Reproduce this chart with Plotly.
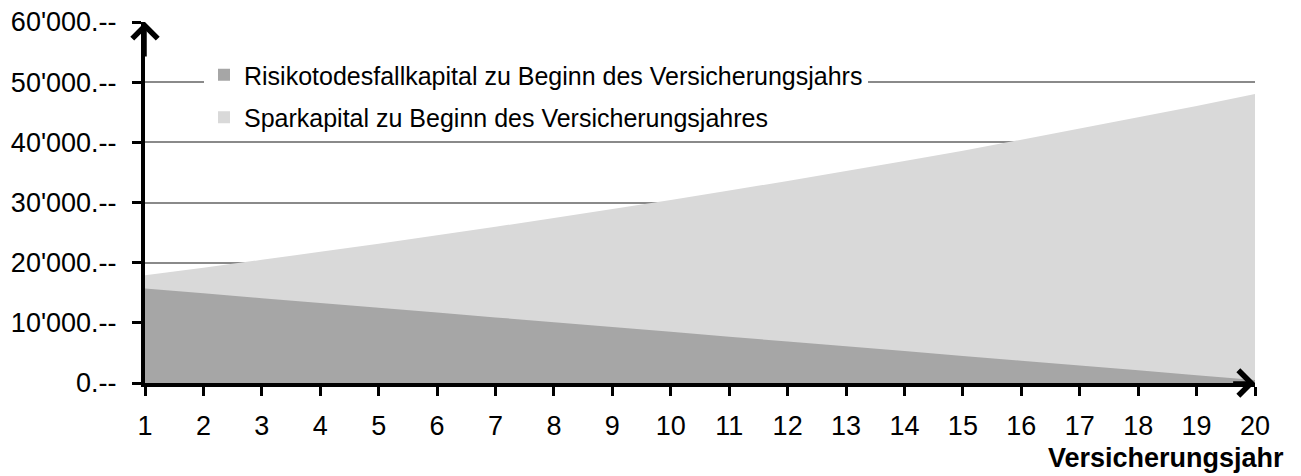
import plotly.graph_objects as go

years = list(range(1, 21))
risiko = [15700, 14900, 14100, 13300, 12500, 11700, 10900, 10100, 9300, 8500,
          7700, 6900, 6100, 5300, 4500, 3700, 2900, 2100, 1300, 500]
spar = [17900, 19170, 20470, 21800, 23160, 24550, 25970, 27420, 28900, 30420,
        31980, 33580, 35220, 36900, 38620, 40450, 42280, 44150, 46050, 48050]
y_tickvals = [0, 10000, 20000, 30000, 40000, 50000, 60000]
y_ticktext = ["0.--", "10'000.--", "20'000.--", "30'000.--", "40'000.--", "50'000.--", "60'000.--"]
name_risiko = "Risikotodesfallkapital zu Beginn des Versicherungsjahrs"
name_spar = "Sparkapital zu Beginn des Versicherungsjahres"
x_title = "Versicherungsjahr"

DARK = "#a6a6a6"
LIGHT = "#d9d9d9"
FONT = "Liberation Sans, Arial, sans-serif"

fig = go.Figure()
fig.add_trace(go.Scatter(x=years, y=spar, mode="none", fill="tozeroy",
                         fillcolor=LIGHT, showlegend=False, hoverinfo="skip"))
fig.add_trace(go.Scatter(x=years, y=risiko, mode="none", fill="tozeroy",
                         fillcolor=DARK, showlegend=False, hoverinfo="skip"))
# legend entries
fig.add_trace(go.Scatter(x=[None], y=[None], mode="markers", name=name_risiko,
                         legendgroup="a",
                         marker=dict(symbol="square", size=13, color=DARK)))
fig.add_trace(go.Scatter(x=[None], y=[None], mode="markers", name=name_spar,
                         legendgroup="b",
                         marker=dict(symbol="square", size=13, color=LIGHT)))

L, R, T, B = 145, 46, 22, 93
W, H = 1301, 476
pw = W - L - R
ph = H - T - B

fig.update_layout(
    width=W, height=H,
    margin=dict(l=L, r=R, t=T, b=B, pad=0, autoexpand=False),
    paper_bgcolor="white", plot_bgcolor="white",
    font=dict(family=FONT, color="black"),
    legend=dict(x=(204 - L) / pw, y=(H - B - 52) / ph, xanchor="left", yanchor="top",
                bgcolor="white", borderwidth=0, font=dict(size=25, family=FONT),
                traceorder="grouped", tracegroupgap=7, itemsizing="constant"),
    xaxis=dict(range=[1, 20], tickvals=years, ticktext=[str(v) for v in years],
               automargin=False,
               showgrid=False, zeroline=False, showline=True, linecolor="black",
               linewidth=4, ticks="outside", ticklen=9, tickwidth=3, tickcolor="black",
               tickfont=dict(size=27, family=FONT), ticklabelstandoff=7),
    yaxis=dict(range=[0, 60000], tickvals=y_tickvals, ticktext=y_ticktext,
               automargin=False,
               showgrid=True, gridcolor="#8a8a8a", gridwidth=2,
               zeroline=False, showline=True, linecolor="black", linewidth=4,
               ticks="outside", ticklen=9, tickwidth=3, tickcolor="black",
               tickfont=dict(size=27, family=FONT), ticklabelstandoff=10),
    annotations=[
        dict(x=20, y=0, ax=19.6, ay=0, xref="x", yref="y", axref="x", ayref="y",
             text="", showarrow=True, arrowhead=4, arrowsize=1.4, arrowwidth=3.5,
             arrowcolor="black", standoff=0),
        dict(x=1, y=60000, ax=1, ay=54000, xref="x", yref="y", axref="x", ayref="y",
             text="", showarrow=True, arrowhead=4, arrowsize=1.4, arrowwidth=3.5,
             arrowcolor="black", standoff=0),
        dict(x=(1286 - L) / pw, y=(H - B - 458) / ph, xref="paper", yref="paper",
             xanchor="right", yanchor="middle", showarrow=False,
             text="<b>" + x_title + "</b>", font=dict(size=27, family=FONT)),
    ],
)

fig.write_html("out.html", config={"displayModeBar": False},
               post_script="document.body.style.margin='0';document.body.style.overflow='hidden';")
